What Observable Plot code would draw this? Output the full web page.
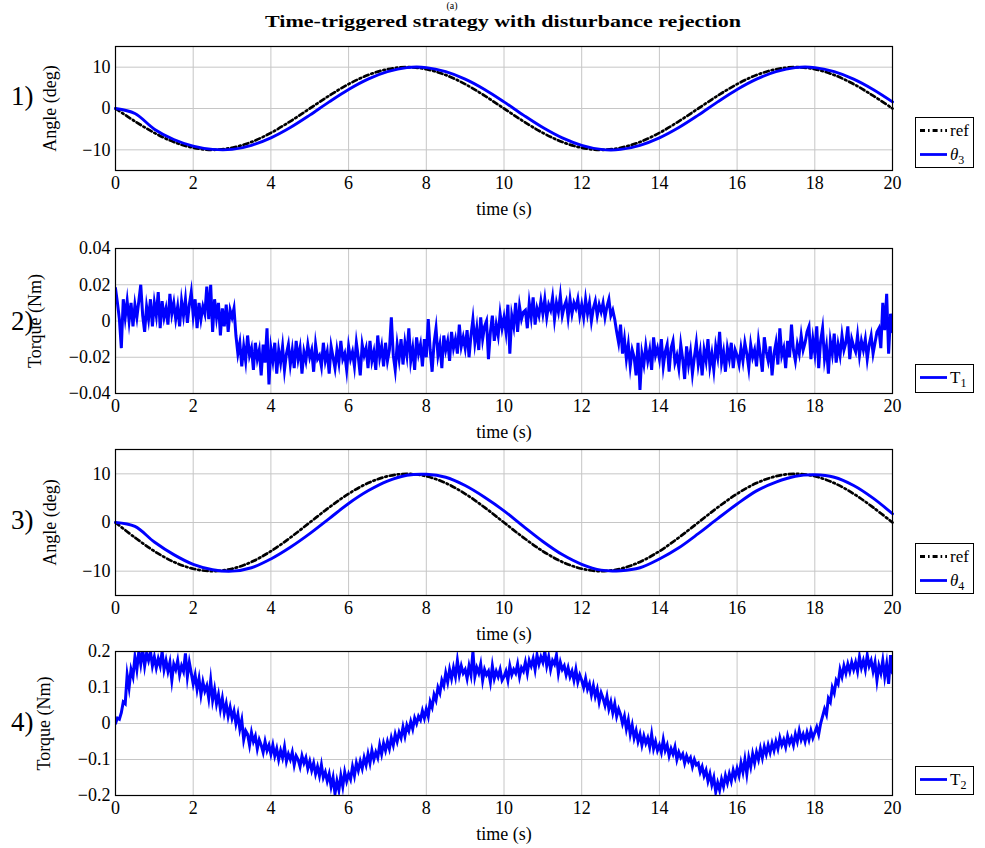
<!DOCTYPE html>
<html><head><meta charset="utf-8">
<script src="https://cdn.jsdelivr.net/npm/d3@7"></script>
<script src="https://cdn.jsdelivr.net/npm/@observablehq/plot@0.6"></script>
<style>
body{margin:0;background:#fff;}
#root{position:relative;width:985px;height:848px;overflow:hidden;background:#fff;}
#root > svg{position:absolute;left:0;}
#overlay{position:absolute;left:0;top:0;pointer-events:none;}
</style>
</head><body><div id="root"></div>
<script>
// ---------------- data ----------------
const xTicks = [0,2,4,6,8,10,12,14,16,18,20];
const angleTicks = [-10,0,10];
const t1Ticks = [-0.04,-0.02,0,0.02,0.04];
const t2Ticks = [-0.2,-0.1,0,0.1,0.2];
const angleStep = 0.5;   // s, sampling of angle series
const torqueStep = 0.05; // s, sampling of torque series

const ref = [0,-3.1,-5.9,-8.1,-9.5,-10,-9.5,-8.1,-5.9,-3.1,0,3.1,5.9,8.1,9.5,10,9.5,8.1,5.9,3.1,0,
             -3.1,-5.9,-8.1,-9.5,-10,-9.5,-8.1,-5.9,-3.1,0,3.1,5.9,8.1,9.5,10,9.5,8.1,5.9,3.1,0];
const theta3 = [0,-1.2,-5.0,-7.5,-9.1,-9.9,-9.9,-8.9,-7.1,-4.6,-1.6,1.6,4.6,7.1,8.9,9.9,9.9,8.9,7.1,4.6,1.6,
                -1.6,-4.6,-7.1,-8.9,-9.9,-9.9,-8.9,-7.1,-4.6,-1.6,1.6,4.6,7.1,8.9,9.9,9.9,8.9,7.1,4.6,1.6];
const theta4 = [0,-0.8,-4.0,-6.6,-8.6,-9.7,-10,-9.3,-7.5,-5.1,-2.3,0.8,3.9,6.5,8.5,9.7,9.9,9.3,7.6,5.2,2.4,
                -0.8,-3.9,-6.6,-8.6,-9.8,-9.9,-9.3,-7.5,-5.2,-2.3,0.8,3.8,6.5,8.3,9.5,9.8,9.3,7.6,5.0,1.8];

const T1 = [
 0.018,0.010,0.001,-0.015,0.012,0.002,0.011,0.000,0.010,-0.003,0.009,0.002,0.011,0.020,0.003,-0.006,0.008,0.001,0.012,-0.003,
 0.010,0.003,0.016,-0.004,0.011,0.002,0.007,-0.002,0.015,0.004,0.010,0.001,0.008,-0.003,0.011,0.003,0.012,-0.001,0.009,0.016,
 0.003,0.012,-0.004,0.010,0.001,0.008,0.004,0.019,0.001,0.020,-0.006,0.012,0.002,0.010,-0.008,0.007,-0.003,0.009,-0.006,0.006,
 0.002,0.007,-0.008,-0.018,-0.012,-0.025,-0.014,-0.022,-0.008,-0.019,-0.015,-0.027,-0.012,-0.021,-0.016,-0.030,-0.013,-0.023,-0.004,-0.035,
 -0.015,-0.022,-0.012,-0.029,-0.016,-0.023,-0.014,-0.027,-0.018,-0.013,-0.024,-0.016,-0.026,-0.011,-0.021,-0.015,-0.029,-0.017,-0.022,-0.013,
 -0.020,-0.016,-0.028,-0.013,-0.021,-0.019,-0.025,-0.012,-0.022,-0.017,-0.029,-0.014,-0.020,-0.026,-0.016,-0.023,-0.011,-0.021,-0.018,-0.027,
 -0.014,-0.021,-0.017,-0.025,-0.012,-0.020,-0.030,-0.013,-0.019,-0.015,-0.026,-0.011,-0.022,-0.017,-0.027,-0.008,-0.020,-0.014,-0.025,-0.012,
 -0.022,-0.016,0.002,-0.019,-0.027,-0.013,-0.021,-0.010,-0.024,-0.012,-0.019,-0.004,-0.022,-0.015,-0.027,-0.009,-0.018,-0.013,-0.025,-0.010,
 -0.020,0.001,-0.016,-0.028,-0.012,-0.004,-0.019,-0.013,-0.026,-0.008,-0.016,-0.011,-0.022,-0.006,-0.015,-0.010,-0.018,-0.002,-0.014,-0.009,
 -0.015,-0.005,-0.020,-0.008,0.001,-0.012,-0.004,-0.016,0.002,-0.010,-0.003,0.000,-0.021,-0.006,0.003,-0.011,-0.002,-0.008,0.004,-0.004,
 0.002,-0.006,0.009,-0.018,0.003,-0.003,0.010,-0.006,0.008,0.001,0.005,0.006,-0.004,0.010,0.002,0.013,-0.002,0.007,0.003,0.011,
 0.004,0.012,0.002,0.009,0.006,0.013,0.001,0.010,0.005,0.014,0.003,0.008,0.011,0.002,0.012,0.004,0.010,0.007,0.012,0.003,
 0.009,0.002,0.012,0.004,0.010,0.000,0.007,0.011,0.003,0.009,0.005,0.010,0.002,0.008,0.012,0.003,0.006,0.001,-0.006,-0.012,
 -0.002,-0.018,-0.010,-0.021,-0.013,-0.025,-0.016,-0.020,-0.030,-0.012,-0.038,-0.018,-0.024,-0.014,-0.022,-0.016,-0.027,-0.009,-0.019,-0.015,
 -0.021,-0.010,-0.025,-0.017,-0.013,-0.028,-0.015,-0.011,-0.023,-0.019,-0.026,-0.013,-0.021,-0.032,-0.014,-0.024,-0.017,-0.029,-0.020,-0.012,
 -0.024,-0.017,-0.030,-0.016,-0.022,-0.010,-0.025,-0.018,-0.027,-0.014,-0.020,-0.006,-0.023,-0.017,-0.028,-0.015,-0.021,-0.012,-0.026,-0.016,
 -0.019,-0.024,-0.015,-0.022,-0.012,-0.018,-0.026,-0.013,-0.020,-0.016,-0.025,-0.011,-0.019,-0.028,-0.009,-0.017,-0.022,-0.014,-0.030,-0.018,
 -0.012,-0.024,-0.004,-0.019,-0.015,-0.026,-0.011,-0.020,-0.002,-0.016,-0.022,-0.013,-0.018,-0.008,-0.016,-0.012,-0.006,-0.003,-0.021,-0.010,
 -0.018,-0.003,-0.026,-0.011,-0.004,-0.021,-0.014,-0.029,-0.011,-0.018,-0.007,-0.023,-0.013,-0.019,-0.008,-0.016,-0.012,-0.003,-0.021,-0.010,
 -0.014,-0.017,-0.008,-0.019,-0.011,-0.016,-0.010,-0.021,-0.013,-0.008,-0.018,-0.012,-0.006,-0.004,-0.015,0.010,-0.005,0.015,-0.018,0.004,
 -0.006
];

const T2 = [
 0.000,0.015,0.012,0.030,0.060,0.055,0.135,0.100,0.150,0.130,0.185,0.150,0.200,0.165,0.205,0.160,0.195,0.175,0.200,0.160,
 0.185,0.155,0.180,0.160,0.200,0.150,0.175,0.145,0.170,0.120,0.165,0.150,0.175,0.135,0.160,0.145,0.195,0.130,0.170,0.140,
 0.110,0.135,0.095,0.125,0.080,0.115,0.090,0.105,0.070,0.120,0.065,0.095,0.055,0.080,0.040,0.070,0.030,0.055,0.020,0.045,
 0.015,0.035,0.000,0.025,-0.015,0.010,-0.045,-0.020,-0.030,-0.060,-0.025,-0.050,-0.035,-0.070,-0.045,-0.060,-0.080,-0.050,-0.075,-0.060,
 -0.085,-0.060,-0.090,-0.070,-0.100,-0.075,-0.095,-0.065,-0.105,-0.085,-0.100,-0.080,-0.115,-0.090,-0.100,-0.120,-0.090,-0.110,-0.095,-0.125,
 -0.105,-0.130,-0.110,-0.140,-0.120,-0.145,-0.115,-0.150,-0.135,-0.160,-0.140,-0.175,-0.150,-0.195,-0.160,-0.185,-0.145,-0.175,-0.135,-0.160,
 -0.140,-0.155,-0.120,-0.145,-0.110,-0.130,-0.105,-0.125,-0.095,-0.115,-0.085,-0.110,-0.075,-0.100,-0.080,-0.095,-0.060,-0.085,-0.055,-0.075,
 -0.050,-0.070,-0.040,-0.060,-0.030,-0.050,-0.025,-0.040,-0.010,-0.035,-0.005,-0.020,0.005,-0.015,0.015,0.000,0.020,0.010,0.035,0.015,
 0.040,0.020,0.060,0.045,0.080,0.065,0.100,0.085,0.120,0.105,0.140,0.115,0.150,0.125,0.155,0.130,0.175,0.135,0.160,0.140,
 0.150,0.125,0.160,0.135,0.200,0.130,0.155,0.140,0.165,0.120,0.150,0.135,0.145,0.115,0.160,0.125,0.145,0.130,0.150,0.120,
 0.130,0.145,0.120,0.160,0.135,0.150,0.140,0.165,0.130,0.155,0.145,0.170,0.140,0.175,0.160,0.180,0.150,0.190,0.165,0.185,
 0.170,0.200,0.160,0.185,0.150,0.175,0.165,0.190,0.140,0.170,0.150,0.160,0.135,0.155,0.130,0.145,0.120,0.150,0.115,0.135,
 0.120,0.100,0.125,0.095,0.110,0.080,0.105,0.075,0.095,0.060,0.085,0.070,0.050,0.075,0.040,0.060,0.030,0.055,0.020,0.040,
 0.025,0.000,0.020,-0.015,0.010,-0.030,-0.005,-0.040,-0.020,-0.050,-0.030,-0.060,-0.035,-0.055,-0.040,-0.065,-0.030,-0.070,-0.050,-0.075,
 -0.060,-0.080,-0.045,-0.075,-0.060,-0.090,-0.070,-0.085,-0.065,-0.100,-0.080,-0.095,-0.085,-0.110,-0.090,-0.105,-0.095,-0.120,-0.100,-0.115,
 -0.110,-0.135,-0.120,-0.145,-0.130,-0.160,-0.140,-0.170,-0.150,-0.190,-0.165,-0.185,-0.155,-0.175,-0.145,-0.165,-0.140,-0.160,-0.130,-0.150,
 -0.125,-0.145,-0.110,-0.135,-0.100,-0.140,-0.095,-0.120,-0.085,-0.110,-0.080,-0.100,-0.070,-0.095,-0.065,-0.085,-0.060,-0.080,-0.055,-0.075,
 -0.050,-0.070,-0.040,-0.060,-0.045,-0.065,-0.035,-0.055,-0.040,-0.060,-0.030,-0.050,-0.020,-0.045,-0.030,-0.050,-0.025,-0.045,-0.020,-0.040,
 -0.025,-0.010,-0.030,0.000,0.020,0.040,0.025,0.070,0.060,0.100,0.085,0.120,0.110,0.150,0.130,0.160,0.140,0.165,0.145,0.170,
 0.150,0.170,0.145,0.185,0.155,0.175,0.150,0.190,0.160,0.175,0.145,0.170,0.120,0.160,0.140,0.175,0.130,0.165,0.110,0.190,
 0.140
];

// ---------------- drawing ----------------
const FONT = '"Liberation Serif", "DejaVu Serif", serif';
const BLUE = "#0000ff";
const GRID = "#c6c6c6";
const DASH = "5,3,1.6,3";
const fmt = d => d < 0 ? "\u2212" + (-d) : String(d);
const series = (arr, step) => arr.map((v, i) => ({t: i * step, v}));

const root = document.getElementById("root");

function panel({top, h, yDomain, yTicks, yLabel, yLabelOffset, marks}) {
  const chart = Plot.plot({
    width: 985, height: 10 + h + 52,
    marginTop: 10, marginBottom: 52, marginLeft: 115, marginRight: 93,
    style: {fontFamily: FONT, fontSize: "18px", background: "transparent", color: "black", overflow: "visible"},
    x: {domain: [0, 20]},
    y: {domain: yDomain},
    marks: [
      Plot.gridX(xTicks, {stroke: GRID, strokeOpacity: 1, strokeWidth: 1}),
      Plot.gridY(yTicks, {stroke: GRID, strokeOpacity: 1, strokeWidth: 1}),
      ...marks,
      Plot.frame({stroke: "black", strokeWidth: 1.2}),
      Plot.axisX(xTicks, {tickSize: 0, tickPadding: 6, fontSize: 18, label: "time (s)", labelAnchor: "center", labelOffset: 44, labelArrow: "none"}),
      Plot.axisY(yTicks, {tickSize: 0, tickPadding: 5, fontSize: 18, tickFormat: fmt, label: yLabel, labelAnchor: "center", labelOffset: yLabelOffset, labelArrow: "none"})
    ]
  });
  chart.style.top = top + "px";
  root.appendChild(chart);
}

const refLine = data => Plot.line(data, {x: "t", y: "v", stroke: "black", strokeWidth: 2.7, strokeDasharray: DASH, curve: "catmull-rom"});
const blueSmooth = data => Plot.line(data, {x: "t", y: "v", stroke: BLUE, strokeWidth: 2.9, curve: "catmull-rom"});
const blueNoisy = data => Plot.line(data, {x: "t", y: "v", stroke: BLUE, strokeWidth: 3, strokeLinejoin: "miter", strokeMiterlimit: 10, clip: true});

panel({top: 36, h: 124, yDomain: [-15, 15], yTicks: angleTicks, yLabel: "Angle (deg)", yLabelOffset: 72,
  marks: [refLine(series(ref, angleStep)), blueSmooth(series(theta3, angleStep))]});
panel({top: 238, h: 145, yDomain: [-0.04, 0.04], yTicks: t1Ticks, yLabel: "Torque (Nm)", yLabelOffset: 87,
  marks: [blueNoisy(series(T1, torqueStep))]});
panel({top: 439, h: 146, yDomain: [-15, 15], yTicks: angleTicks, yLabel: "Angle (deg)", yLabelOffset: 72,
  marks: [refLine(series(ref, angleStep)), blueSmooth(series(theta4, angleStep))]});
panel({top: 641, h: 144, yDomain: [-0.2, 0.2], yTicks: t2Ticks, yLabel: "Torque (Nm)", yLabelOffset: 78,
  marks: [blueNoisy(series(T2, torqueStep))]});

// ---------------- overlay: title, panel numbers, legends ----------------
const NS = "http://www.w3.org/2000/svg";
const ov = document.createElementNS(NS, "svg");
ov.setAttribute("id", "overlay");
ov.setAttribute("width", 985); ov.setAttribute("height", 848);
ov.style.fontFamily = FONT;
let html = "";
html += `<text x="452" y="9" text-anchor="middle" font-size="10">(a)</text>`;
html += `<text x="503" y="27" text-anchor="middle" font-size="17" font-weight="bold" textLength="476" lengthAdjust="spacingAndGlyphs">Time-triggered strategy with disturbance rejection</text>`;
[["1)",105],["2)",330],["3)",529],["4)",731]].forEach(([s,y]) => {
  html += `<text x="11" y="${y}" font-size="27">${s}</text>`;
});
function legend(x, y, entries) {
  const w = 58, h = entries.length === 2 ? 50 : 28;
  let s = `<rect x="${x+0.5}" y="${y+0.5}" width="${w}" height="${h}" fill="white" stroke="black" stroke-width="1"/>`;
  entries.forEach((e, i) => {
    const cy = y + 13.5 + i * 24;
    s += `<line x1="${x+5}" x2="${x+32}" y1="${cy}" y2="${cy}" stroke="${e.color}" stroke-width="2.8" ${e.dash ? `stroke-dasharray="${e.dash}"` : ""}/>`;
    s += `<text x="${x+35}" y="${cy+5}" font-size="17">${e.label}</text>`;
  });
  return s;
}
const thetaLbl = n => `<tspan font-style="italic">θ</tspan><tspan font-size="12" dy="4">${n}</tspan>`;
const tLbl = n => `T<tspan font-size="12" dy="4">${n}</tspan>`;
html += legend(915, 117, [{color: "black", dash: DASH, label: "ref"}, {color: BLUE, label: thetaLbl(3)}]);
html += legend(915, 364, [{color: BLUE, label: tLbl(1)}]);
html += legend(915, 543, [{color: "black", dash: DASH, label: "ref"}, {color: BLUE, label: thetaLbl(4)}]);
html += legend(915, 766, [{color: BLUE, label: tLbl(2)}]);
ov.innerHTML = html;
root.appendChild(ov);
</script>
</body></html>
